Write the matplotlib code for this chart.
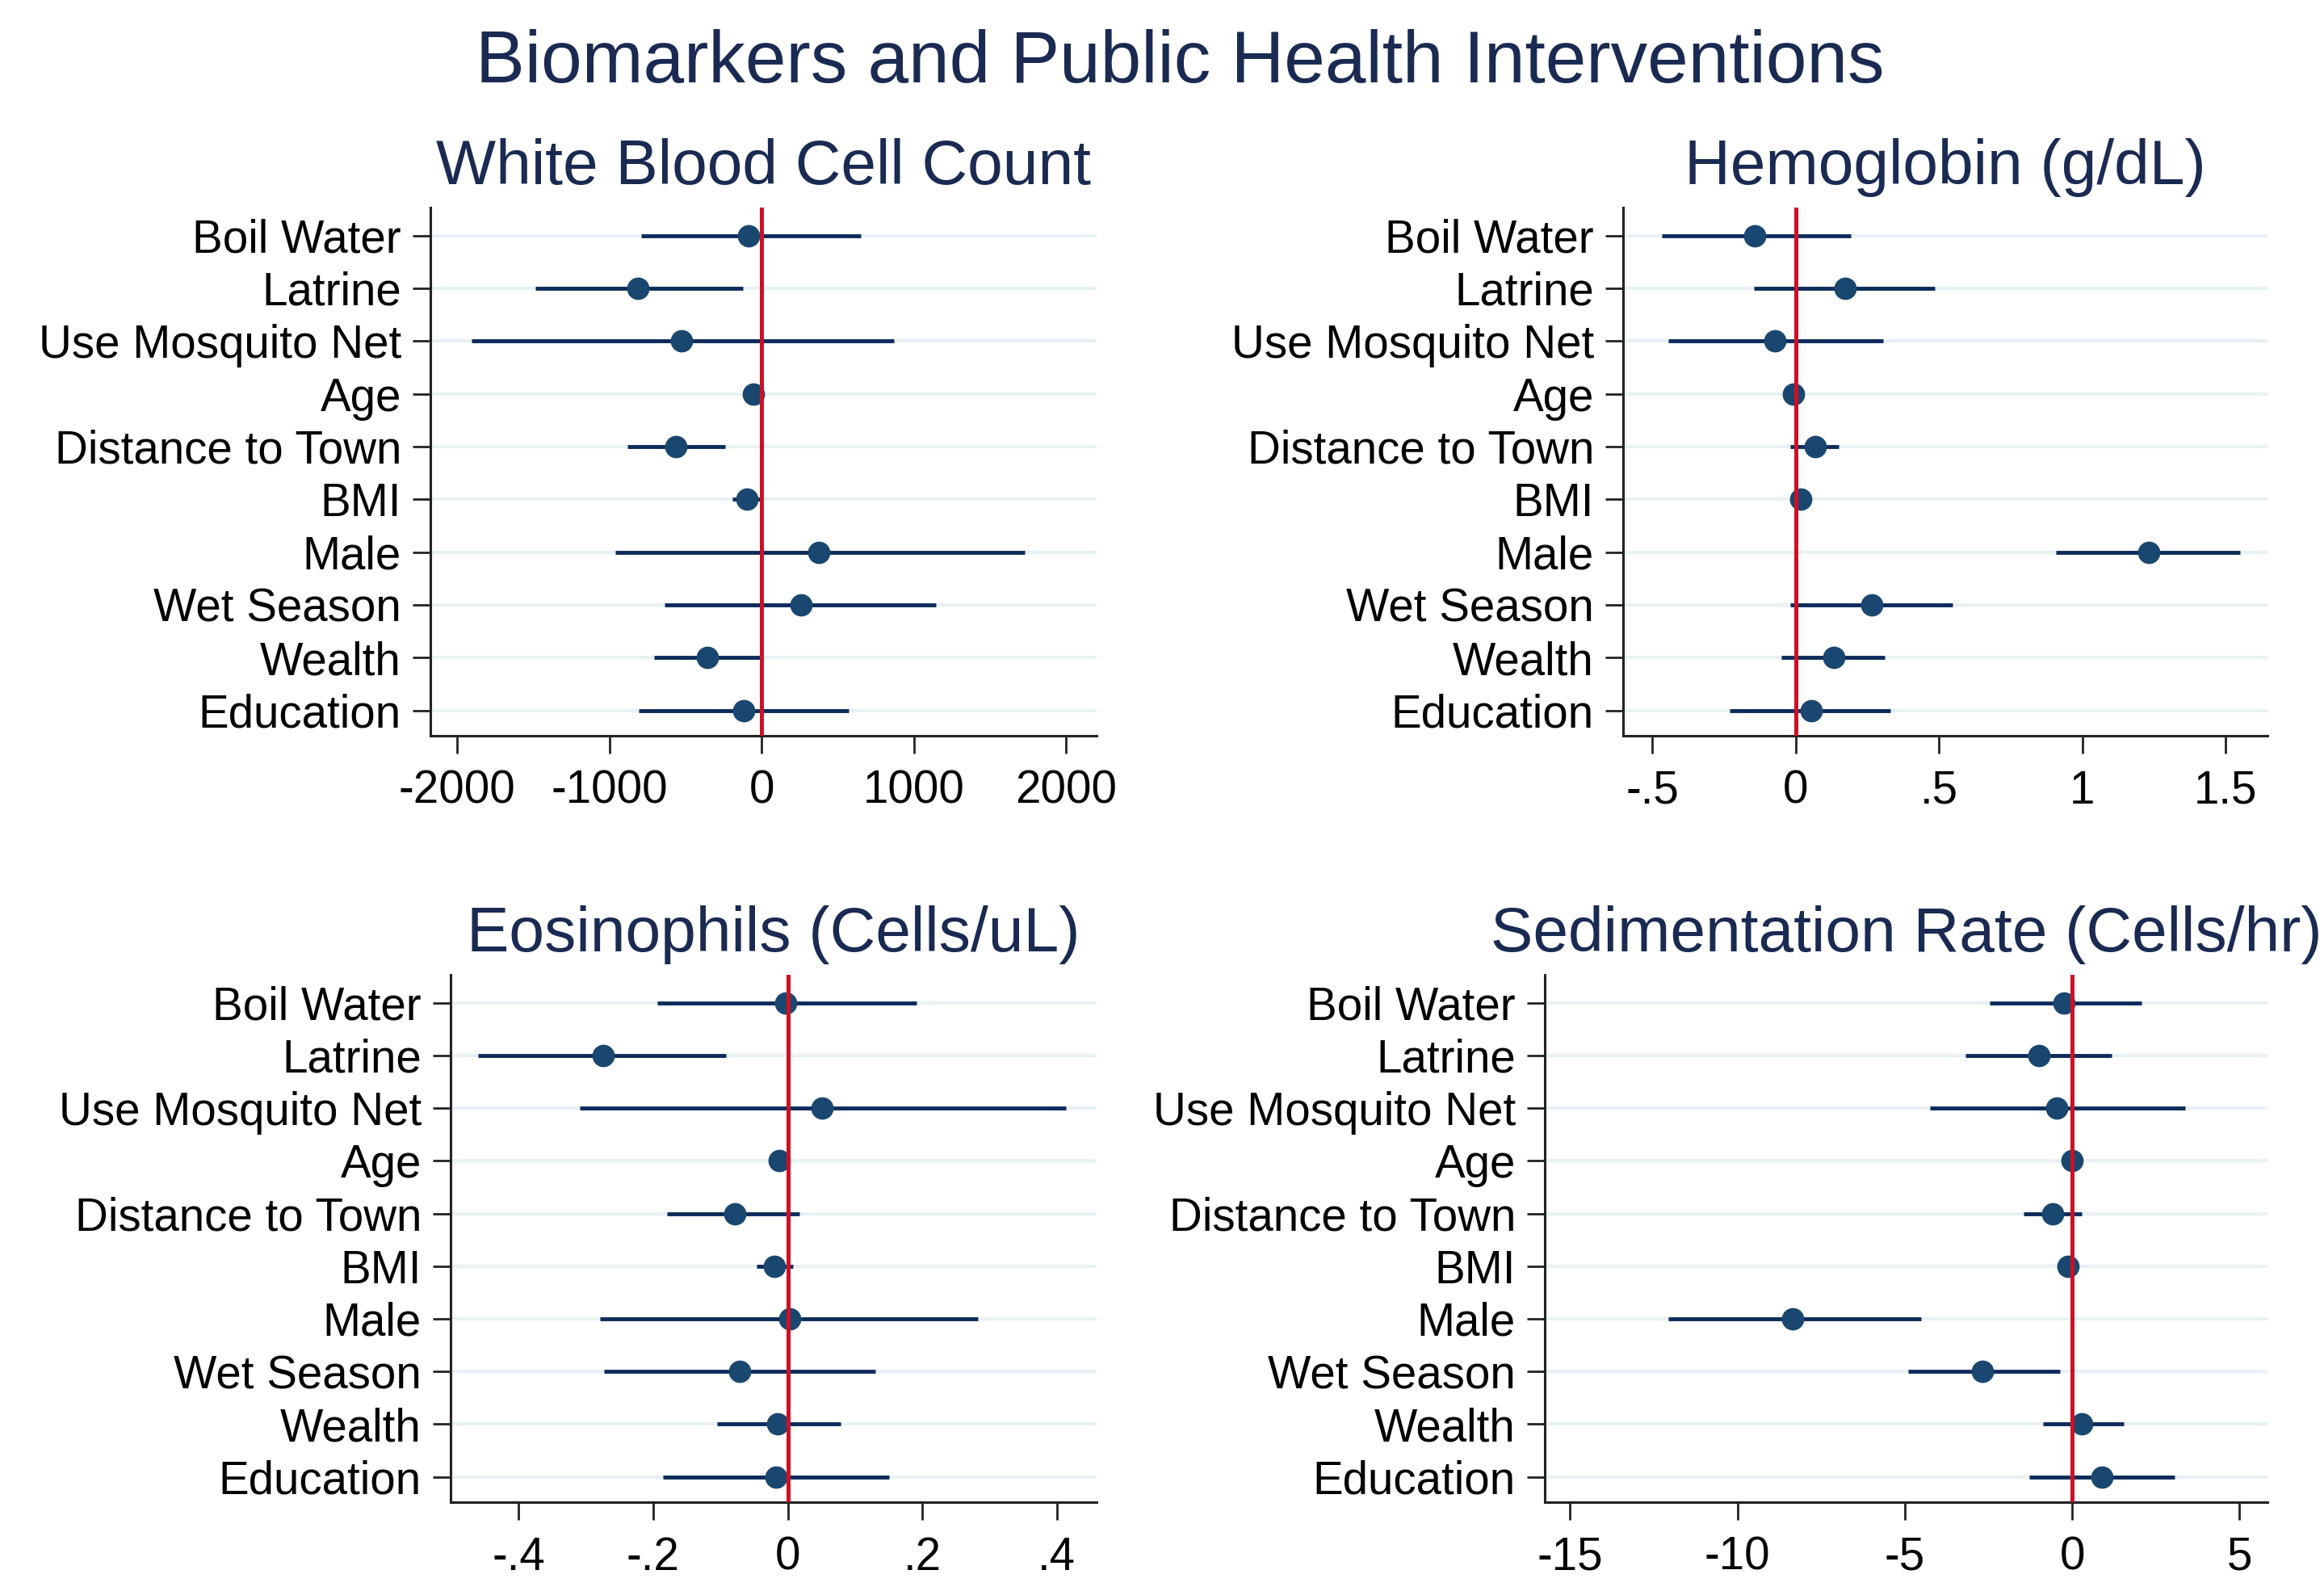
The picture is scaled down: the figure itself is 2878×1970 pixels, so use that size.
import numpy as np
import matplotlib
matplotlib.use('Agg')
import matplotlib.pyplot as plt

plt.rcParams['font.family'] = ['Liberation Sans', 'DejaVu Sans']

# covariates, top to bottom
variables = ['Boil Water', 'Latrine', 'Use Mosquito Net', 'Age', 'Distance to Town',
             'BMI', 'Male', 'Wet Season', 'Wealth', 'Education']

# white blood cell count
wbc_est = [-85, -811, -526, -55, -565, -97, 377, 258, -356, -118]
wbc_lo = [-793, -1486, -1903, -75, -884, -191, -963, -638, -705, -808]
wbc_hi = [650, -122, 869, -35, -240, -5, 1726, 1146, -3, 571]

# hemoglobin
hb_est = [-0.144, 0.173, -0.071, -0.008, 0.069, 0.019, 1.232, 0.265, 0.132, 0.055]
hb_lo = [-0.466, -0.147, -0.443, -0.015, -0.020, -0.014, 0.907, -0.020, -0.049, -0.229]
hb_hi = [0.191, 0.484, 0.304, -0.001, 0.150, 0.052, 1.549, 0.546, 0.312, 0.330]

# eosinophils
eos_est = [-0.003, -0.274, 0.051, -0.013, -0.079, -0.020, 0.003, -0.071, -0.015, -0.018]
eos_lo = [-0.194, -0.460, -0.309, -0.018, -0.179, -0.046, -0.279, -0.273, -0.105, -0.185]
eos_hi = [0.191, -0.092, 0.413, -0.008, 0.017, 0.008, 0.282, 0.130, 0.078, 0.151]

# sedimentation rate
sed_est = [-0.23, -1.00, -0.46, 0.0, -0.58, -0.12, -8.34, -2.67, 0.29, 0.89]
sed_lo = [-2.47, -3.18, -4.25, -0.1, -1.44, -0.40, -12.07, -4.90, -0.88, -1.28]
sed_hi = [2.07, 1.18, 3.38, 0.1, 0.29, 0.16, -4.52, -0.37, 1.54, 3.07]

titles = ['White Blood Cell Count', 'Hemoglobin (g/dL)',
          'Eosinophils (Cells/uL)', 'Sedimentation Rate (Cells/hr)']
xtick_vals = [[-2000, -1000, 0, 1000, 2000], [-0.5, 0, 0.5, 1, 1.5],
              [-0.4, -0.2, 0, 0.2, 0.4], [-15, -10, -5, 0, 5]]
xtick_labels = [['-2000', '-1000', '0', '1000', '2000'], ['-.5', '0', '.5', '1', '1.5'],
                ['-.4', '-.2', '0', '.2', '.4'], ['-15', '-10', '-5', '0', '5']]
xlims = [(-2176, 2200), (-0.602, 1.646), (-0.501, 0.459), (-15.76, 5.84)]

W, H = 2878, 1970


def frame(x0, x1, y0, y1):
    return [x0 / W, 1 - y1 / H, (x1 - x0) / W, (y1 - y0) / H]


frames = [frame(533, 1358, 257, 911), frame(2010, 2808, 257, 911),
          frame(558, 1358, 1207, 1860), frame(1913, 2808, 1207, 1860)]

series = [(wbc_est, wbc_lo, wbc_hi), (hb_est, hb_lo, hb_hi),
          (eos_est, eos_lo, eos_hi), (sed_est, sed_lo, sed_hi)]

navy_txt = '#1a2a52'
bar_col = '#0d2b5b'
mk_col = '#1a476f'
red = '#cc1126'
grid_col = '#e8f1f3'

fig = plt.figure(figsize=(W / 100, H / 100), dpi=100)
fig.text(0.5077, 1 - 102 / H, 'Biomarkers and Public Health Interventions',
         ha='center', va='baseline', fontsize=65.5, color=navy_txt)

y = np.arange(len(variables))
for i in range(4):
    ax = fig.add_axes(frames[i])
    est, lo, hi = series[i]
    est = np.array(est)
    lo = np.array(lo)
    hi = np.array(hi)
    for yy in y:
        ax.axhline(yy, color=grid_col, lw=3, zorder=0)
    ax.hlines(y, lo, hi, color=bar_col, lw=3.5, zorder=2)
    ax.plot(est, y, 'o', color=mk_col, markersize=20, markeredgewidth=0, zorder=3)
    ax.axvline(0, color=red, lw=3.6, zorder=4)
    ax.set_xlim(xlims[i])
    ax.set_ylim(9.48, -0.53)
    ax.set_yticks(y)
    ax.set_yticklabels(variables)
    ax.set_xticks(xtick_vals[i])
    ax.set_xticklabels(xtick_labels[i])
    ax.tick_params(axis='both', labelsize=40.7, length=16, width=2, color='#222222')
    ax.tick_params(axis='y', pad=10)
    ax.tick_params(axis='x', pad=14)
    for s in ['top', 'right']:
        ax.spines[s].set_visible(False)
    for s in ['left', 'bottom']:
        ax.spines[s].set_linewidth(2.2)
        ax.spines[s].set_color('#222222')
    ax.set_title(titles[i], fontsize=56.5, color=navy_txt, pad=21)

fig.savefig('out.png', dpi=100, facecolor='white')
